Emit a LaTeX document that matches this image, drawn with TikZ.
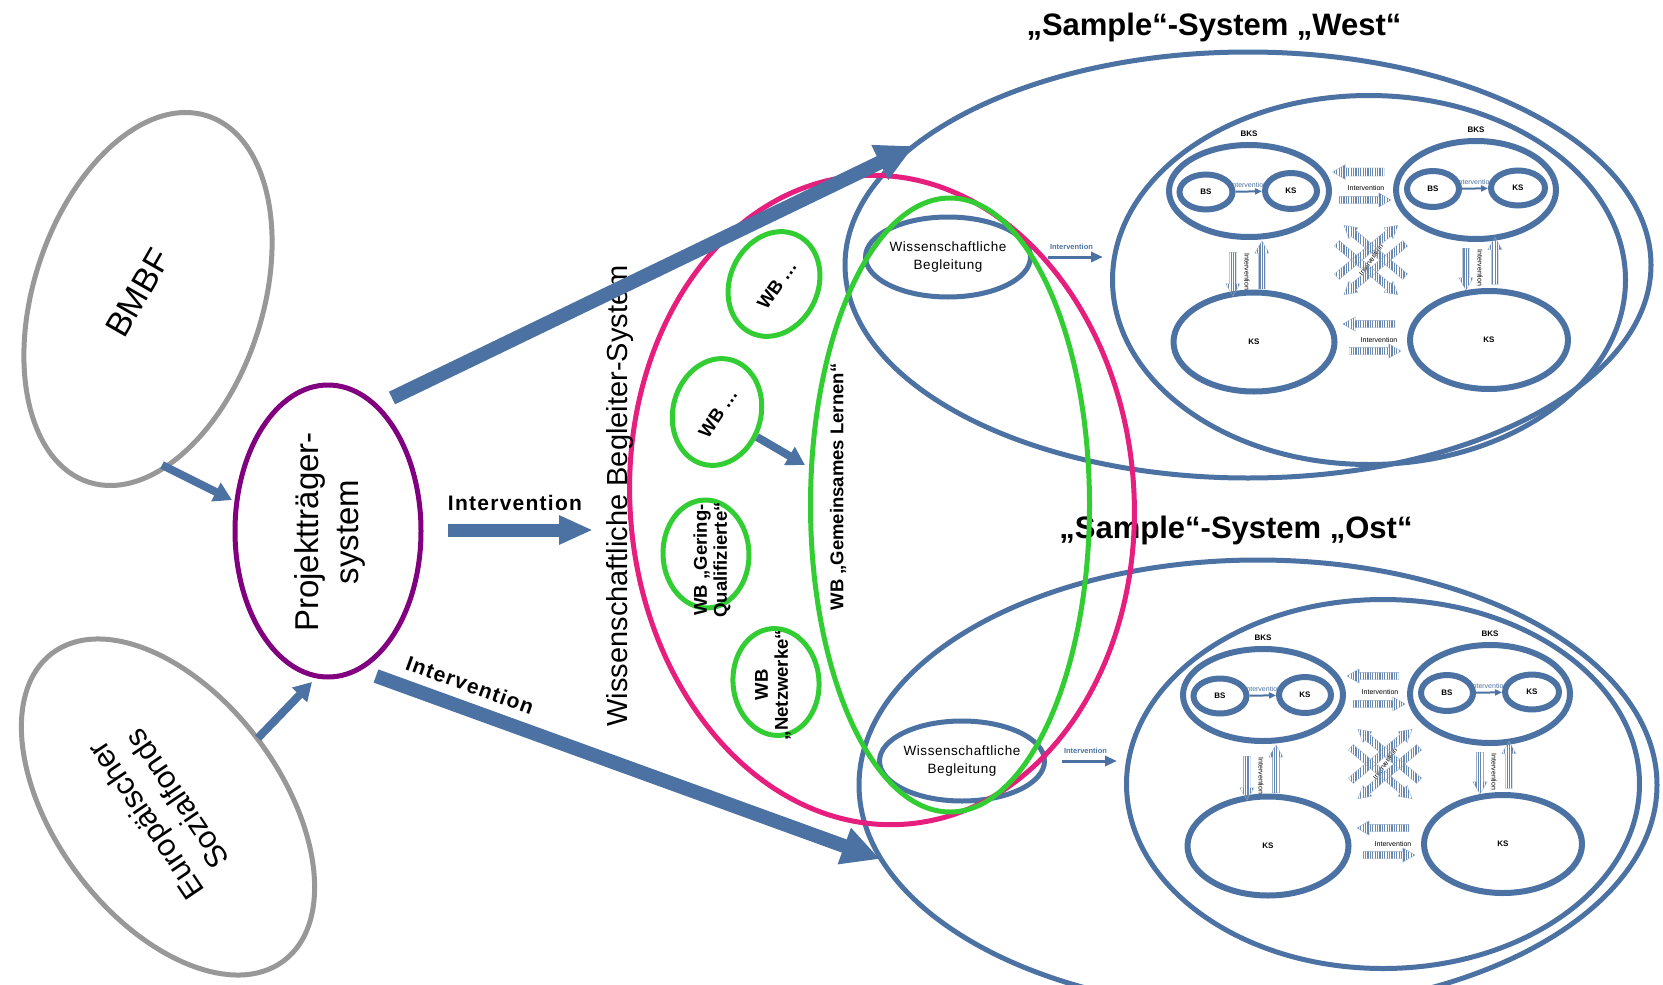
\documentclass[tikz,border=0pt]{standalone}
\usepackage{fontspec}
\setmainfont{Liberation Sans}
\usetikzlibrary{shapes.geometric,shapes.arrows,arrows.meta,patterns.meta}

\definecolor{sysblue}{RGB}{76,114,163}
\definecolor{fundgray}{RGB}{152,152,152}
\definecolor{ptpurple}{RGB}{128,0,128}
\definecolor{wbpink}{RGB}{230,30,125}
\definecolor{wbgreen}{RGB}{50,205,50}

\tikzset{
  oval/.style={ellipse, inner sep=0pt},
  fundoval/.style={oval, draw=fundgray, line width=5pt},
  sysoval/.style={oval, draw=sysblue, line width=5pt},
  subsys/.style={oval, draw=sysblue, line width=6pt, font=\fontsize{8}{9}\selectfont\bfseries},
  wboval/.style={oval, draw=wbgreen, line width=5pt},
  bigarrow/.style={sysblue, line width=14pt, -{Triangle[length=38pt,width=36pt]}},
  midarrow/.style={sysblue, line width=13pt, -{Triangle[length=34pt,width=27pt]}},
  smallarrow/.style={sysblue, line width=8pt, -{Triangle[length=18pt,width=20pt]}},
  thinarrow/.style={sysblue, line width=2pt, -{Triangle[length=7pt,width=6pt]}},
  stripes/.style={single arrow, draw=sysblue!60, line width=.3pt, inner xsep=0pt, inner ysep=3.5pt,
    minimum width=14pt, minimum height=#1, single arrow head extend=3.5pt,
    single arrow tip angle=60,
    pattern={Lines[angle=90,distance=2.4pt,line width=1.1pt]}, pattern color=sysblue!85},
  stripes/.default=52pt,
  tinylbl/.style={font=\fontsize{7}{8}\selectfont, inner sep=0pt},
  keylbl/.style={font=\fontsize{8}{9}\selectfont\bfseries, label distance=2pt},
  wblbl/.style={font=\fontsize{18.5}{20}\selectfont\bfseries, align=center, inner sep=0pt},
  ivlbl/.style={font=\fontsize{21}{24}\selectfont\bfseries\addfontfeature{LetterSpace=6}, inner sep=0pt}
}

% one Sample-System (coordinates of "West")
\newcommand{\samplesystem}{%
  \node[sysoval, minimum width=513pt, minimum height=369pt] (sys) at (1369,280) {};
  \node[sysoval, minimum width=150pt, minimum height=80pt, align=center,
    font=\fontsize{13.5}{18}\selectfont\addfontfeature{LetterSpace=4}] (wb) at (948,257) {Wissenschaftliche\\Begleitung};
  \draw[thinarrow, line width=3pt, -{Triangle[length=12pt,width=10pt]}, shorten <=15pt, shorten >=7pt]
    (wb.east) -- (wb.east -| sys.west) node[midway, above=3pt, font=\fontsize{7.5}{8}\selectfont\bfseries] {Intervention};
  \node[subsys, minimum width=160pt, minimum height=92pt, label={[keylbl]above:BKS}] (bksL) at (1249,191) {};
  \node[subsys, minimum width=53pt, minimum height=35pt] (bsL) at (1206,192) {BS};
  \node[subsys, minimum width=52pt, minimum height=36pt] (ksL) at (1291,191) {KS};
  \draw[thinarrow] (bsL) -- (ksL) node[midway, above=3pt, tinylbl] {Intervention};
  \node[subsys, minimum width=160pt, minimum height=98pt, label={[keylbl]above:BKS}] (bksR) at (1476,190) {};
  \node[subsys, minimum width=52pt, minimum height=36pt] (bsR) at (1433,189) {BS};
  \node[subsys, minimum width=54pt, minimum height=35pt] (ksR) at (1518,188) {KS};
  \draw[thinarrow] (bsR) -- (ksR) node[midway, above=3pt, tinylbl] {Intervention};
  \node[subsys, minimum width=161pt, minimum height=99pt] (kbL) at (1254,342) {KS};
  \node[subsys, minimum width=158pt, minimum height=98pt] (kbR) at (1489,340) {KS};
  % gestreifte Pfeile
  \node[stripes, rotate=180] (tL) at (1362,172) {};
  \node[stripes] (tR) at (1362,200) {};
  \node[tinylbl] (tLbl) at (1366,188) {Intervention};
  \node[stripes, rotate=180] (bL) at (1372,324) {};
  \node[stripes] (bR) at (1372,351) {};
  \node[tinylbl] (bLbl) at (1379,340) {Intervention};
  \node[stripes=44pt, rotate=-90] (vLd) at (1233,271) {};
  \node[stripes=48pt, rotate=90] (vLu) at (1262,268) {};
  \node[tinylbl, rotate=-90] (vLlbl) at (1247,272) {Intervention};
  \node[stripes=42pt, rotate=-90] (vRd) at (1466,266) {};
  \node[stripes=47pt, rotate=90] (vRu) at (1495,264) {};
  \node[tinylbl, rotate=-90] (vRlbl) at (1480,268) {Intervention};
  \node[tinylbl, rotate=55] (xLbl) at (1371,260) {Intervention};
  \node[stripes=80pt, rotate=40] (x1) at (1365,253) {};
  \node[stripes=80pt, rotate=-140] (x2) at (1377,267) {};
  \node[stripes=80pt, rotate=140] (x3) at (1377,253) {};
  \node[stripes=80pt, rotate=-40] (x4) at (1365,267) {};
}

\begin{document}
\begin{tikzpicture}[x=1pt, y=-1pt]
\useasboundingbox (0,0) rectangle (1663,985);
% Geldgeber und Projekttraeger
\node[fundoval, minimum width=385pt, minimum height=229pt, rotate=72] (bmbf) at (148,299) {};
\node[rotate=60, font=\fontsize{34}{40}\selectfont] (bmbftxt) at (138,293) {BMBF};
\node[fundoval, minimum width=385pt, minimum height=225pt, rotate=127] (esf) at (168,807) {};
\node[rotate=124, align=center, font=\fontsize{31}{38}\selectfont] (esftxt) at (161,810) {Europäischer\\Sozialfonds};
\node[oval, draw=ptpurple, line width=5pt, minimum width=186pt, minimum height=292pt] (proj) at (328,531) {};
\node[rotate=90, align=center, font=\fontsize{33}{40}\selectfont] (projtxt) at (330,532) {Projektträger-\\system};

% Sample-Systeme
\node[sysoval, minimum width=806pt, minimum height=426pt] (west) at (1248,265) {};
\node[sysoval, minimum width=798pt, minimum height=450pt] (ost) at (1258,785) {};
\begin{scope}[name prefix=w-]
\samplesystem
\end{scope}
\begin{scope}[shift={(14,504)}, name prefix=o-]
\samplesystem
\end{scope}
\node[font=\fontsize{31}{36}\selectfont\bfseries] (westtitle) at (1214,27) {„Sample“-System „West“};
\node[font=\fontsize{31}{36}\selectfont\bfseries] (osttitle) at (1236,530) {„Sample“-System „Ost“};

% Begleiter-System
\node[oval, draw=wbpink, line width=5pt, minimum width=650pt, minimum height=504pt, rotate=94] (wbs) at (882,500) {};
\node[wboval, minimum width=279pt, minimum height=614pt] (gl) at (950,505) {};
\node[wboval, minimum width=108pt, minimum height=88pt, rotate=65] (wbA) at (774,284) {};
\node[wboval, minimum width=108pt, minimum height=88pt, rotate=75] (wbB) at (717,412) {};
\node[wboval, minimum width=108pt, minimum height=86pt, rotate=92] (wbC) at (706,554) {};
\node[wboval, minimum width=107pt, minimum height=86pt, rotate=95] (wbD) at (776,682) {};
\node[wblbl, rotate=55] (wbAtxt) at (777,285) {WB …};
\node[wblbl, rotate=56] (wbBtxt) at (718,413) {WB …};
\node[wblbl, rotate=90] (wbCtxt) at (712,560) {WB „Gering-\\Qualifizierte“};
\node[wblbl, rotate=90] (wbDtxt) at (773,685) {WB\\„Netzwerke“};
\node[wblbl, rotate=90] (gltxt) at (838,487) {WB „Gemeinsames Lernen“};
\node[rotate=90, font=\fontsize{29}{34}\selectfont] (wbstxt) at (620,496) {Wissenschaftliche Begleiter-System};

% Pfeile
\coordinate (bmbfOut) at (162,465);
\coordinate (projIn1) at (232,500);
\coordinate (esfOut) at (258,738);
\coordinate (projIn2) at (312,682);
\coordinate (ivStart) at (448,530);
\coordinate (ivEnd) at (593,530);
\coordinate (westStart) at (392,398);
\coordinate (westTip) at (914,146);
\coordinate (ostStart) at (376,676);
\coordinate (ostTip) at (880,859);
\coordinate (wbBOut) at (757,437);
\coordinate (glIn) at (805,465);
\draw[smallarrow] (bmbfOut) -- (projIn1);
\draw[smallarrow] (esfOut) -- (projIn2);
\draw[smallarrow] (wbBOut) -- (glIn);
\draw[midarrow] (ivStart) -- (ivEnd);
\node[ivlbl] (ivlbl1) at (515,503) {Intervention};
\draw[bigarrow] (westStart) -- (westTip);
\draw[bigarrow] (ostStart) -- (ostTip);
\node[ivlbl, rotate=-20] (ivlbl2) at (470,685) {Intervention};
\end{tikzpicture}
\end{document}
